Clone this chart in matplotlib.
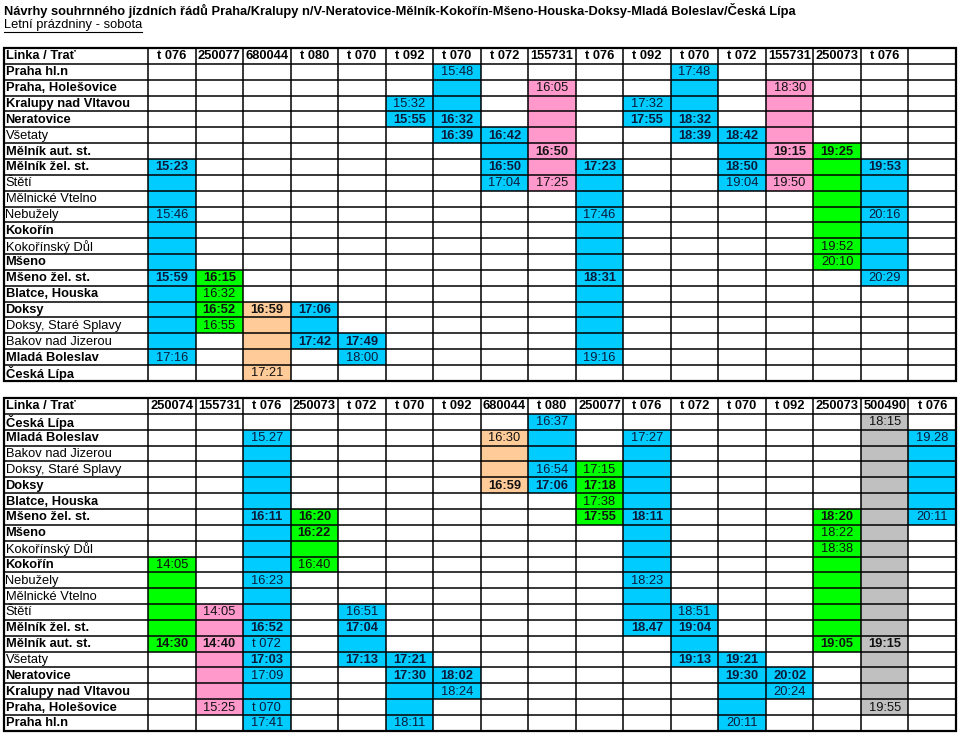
import matplotlib
matplotlib.use("Agg")
import matplotlib.pyplot as plt
from matplotlib.patches import Rectangle

plt.rcParams['font.family'] = ['Liberation Sans', 'DejaVu Sans']

title = "Návrhy souhrnného jízdních řádů Praha/Kralupy n/V-Neratovice-Mělník-Kokořín-Mšeno-Houska-Doksy-Mladá Boleslav/Česká Lípa"
subtitle = "Letní prázdniny - sobota"

# stanice psane tucne
bold_stations = {"Praha hl.n", "Praha, Holešovice", "Kralupy nad Vltavou", "Neratovice",
                 "Mělník aut. st.", "Mělník žel. st.", "Kokořín", "Mšeno", "Mšeno žel. st.",
                 "Blatce, Houska", "Doksy", "Mladá Boleslav", "Česká Lípa"}

# ---- horni tabulka (smer Praha -> Česká Lípa) ----
top_stations = ["Praha hl.n", "Praha, Holešovice", "Kralupy nad Vltavou", "Neratovice", "Všetaty",
                "Mělník aut. st.", "Mělník žel. st.", "Štětí", "Mělnické Vtelno", "Nebužely",
                "Kokořín", "Kokořínský Důl", "Mšeno", "Mšeno žel. st.", "Blatce, Houska", "Doksy",
                "Doksy, Staré Splavy", "Bakov nad Jizerou", "Mladá Boleslav", "Česká Lípa"]
top_lines = ["t 076", "250077", "680044", "t 080", "t 070", "t 092", "t 070", "t 072", "155731",
             "t 076", "t 092", "t 070", "t 072", "155731", "250073", "t 076", ""]
top_colors = ["b", "g", "o", "b", "b", "b", "b", "b", "p", "b", "b", "b", "b", "p", "g", "b", ""]
top_spans = [(6, 18), (13, 16), (15, 19), (15, 17), (17, 18), (2, 3), (0, 4), (4, 7), (1, 7),
             (6, 18), (2, 3), (0, 4), (4, 7), (1, 7), (5, 12), (6, 13), None]
# "*" = tucne
top_times = [
    {6: "*15:23", 9: "15:46", 13: "*15:59", 18: "17:16"},
    {13: "*16:15", 14: "16:32", 15: "*16:52", 16: "16:55"},
    {15: "*16:59", 19: "17:21"},
    {15: "*17:06", 17: "*17:42"},
    {17: "*17:49", 18: "18:00"},
    {2: "15:32", 3: "*15:55"},
    {0: "15:48", 3: "*16:32", 4: "*16:39"},
    {4: "*16:42", 6: "*16:50", 7: "17:04"},
    {1: "16:05", 5: "*16:50", 7: "17:25"},
    {6: "*17:23", 9: "17:46", 13: "*18:31", 18: "19:16"},
    {2: "17:32", 3: "*17:55"},
    {0: "17:48", 3: "*18:32", 4: "*18:39"},
    {4: "*18:42", 6: "*18:50", 7: "19:04"},
    {1: "18:30", 5: "*19:15", 7: "19:50"},
    {5: "*19:25", 11: "19:52", 12: "20:10"},
    {6: "*19:53", 9: "20:16", 13: "20:29"},
    {},
]

# ---- dolni tabulka (smer Česká Lípa -> Praha) ----
bottom_stations = top_stations[::-1]
bottom_lines = ["250074", "155731", "t 076", "250073", "t 072", "t 070", "t 092", "680044", "t 080",
                "250077", "t 076", "t 072", "t 070", "t 092", "250073", "500490", "t 076"]
bottom_colors = ["g", "p", "b", "g", "b", "b", "b", "o", "b", "g", "b", "b", "b", "b", "g", "s", "b"]
bottom_spans = [(9, 14), (12, 18), (1, 19), (6, 9), (12, 15), (15, 19), (16, 17), (1, 4), (0, 4),
                (3, 6), (1, 13), (12, 15), (15, 19), (16, 17), (6, 14), (0, 18), (1, 6)]
bottom_times = [
    {9: "14:05", 14: "*14:30"},
    {12: "14:05", 14: "*14:40", 18: "15:25"},
    {1: "15.27", 6: "*16:11", 10: "16:23", 13: "*16:52", 14: "t 072", 15: "*17:03", 16: "17:09",
     18: "t 070", 19: "17:41"},
    {6: "*16:20", 7: "*16:22", 9: "16:40"},
    {12: "16:51", 13: "*17:04", 15: "*17:13"},
    {15: "*17:21", 16: "*17:30", 19: "18:11"},
    {16: "*18:02", 17: "18:24"},
    {1: "16:30", 4: "*16:59"},
    {0: "16:37", 3: "16:54", 4: "*17:06"},
    {3: "17:15", 4: "*17:18", 5: "17:38", 6: "*17:55"},
    {1: "17:27", 6: "*18:11", 10: "18:23", 13: "*18.47"},
    {12: "18:51", 13: "*19:04", 15: "*19:13"},
    {15: "*19:21", 16: "*19:30", 19: "20:11"},
    {16: "*20:02", 17: "20:24"},
    {6: "*18:20", 7: "18:22", 8: "18:38", 14: "*19:05"},
    {0: "18:15", 14: "*19:15", 18: "19:55"},
    {1: "19.28", 6: "20:11"},
]

palette = {"b": "#00CCFF", "g": "#00FF00", "o": "#FFCC99", "p": "#FF99CC", "s": "#C0C0C0"}

X_LEFT = 3.5
X_NAME = 148
X_RIGHT = 956
ROW_H = 15.85
FS = 9.3


def draw_table(ax, y0, stations, lines, colors, spans, times):
    ncol = len(lines)
    col_w = (X_RIGHT - X_NAME) / ncol
    nrow = len(stations) + 1
    # barevne sloupce
    for j in range(ncol):
        if spans[j] is None or colors[j] == "":
            continue
        r0, r1 = spans[j]
        ax.add_patch(Rectangle((X_NAME + j * col_w, y0 + (r0 + 1) * ROW_H), col_w,
                               (r1 - r0 + 1) * ROW_H, facecolor=palette[colors[j]],
                               edgecolor="none", zorder=1))
    # mrizka
    for i in range(nrow + 1):
        ax.plot([X_LEFT, X_RIGHT], [y0 + i * ROW_H] * 2, color="black", lw=1.1, zorder=3,
                solid_capstyle="projecting")
    xs = [X_LEFT, X_NAME] + [X_NAME + (j + 1) * col_w for j in range(ncol)]
    for x in xs:
        ax.plot([x, x], [y0, y0 + nrow * ROW_H], color="black", lw=1.1, zorder=3,
                solid_capstyle="projecting")
    ax.add_patch(Rectangle((X_LEFT, y0), X_RIGHT - X_LEFT, nrow * ROW_H, facecolor="none",
                           edgecolor="black", lw=1.6, zorder=4))
    # hlavicka
    yc = y0 + ROW_H / 2 + 0.5
    ax.text(X_LEFT + 2, yc, "Linka / Trať", fontsize=FS, fontweight="bold", va="center",
            ha="left", zorder=5)
    for j, lab in enumerate(lines):
        ax.text(X_NAME + (j + 0.5) * col_w, yc, lab, fontsize=FS, fontweight="bold",
                va="center", ha="center", zorder=5)
    # stanice
    for i, st in enumerate(stations):
        yc = y0 + (i + 1.5) * ROW_H + 0.5
        ax.text(X_LEFT + 2, yc, st, fontsize=FS, va="center", ha="left", zorder=5,
                fontweight="bold" if st in bold_stations else "normal")
    # casy
    for j in range(ncol):
        for r, t in times[j].items():
            bold = t.startswith("*")
            txt = t.lstrip("*")
            tc = "#0c1a3a" if colors[j] == "b" else "#111111"
            ax.text(X_NAME + (j + 0.5) * col_w, y0 + (r + 1.5) * ROW_H + 0.5, txt,
                    fontsize=FS, fontweight="bold" if bold else "normal", color=tc,
                    va="center", ha="center", zorder=5)


fig = plt.figure(figsize=(9.6, 7.35), dpi=100)
ax = fig.add_axes([0, 0, 1, 1])
ax.set_xlim(0, 960)
ax.set_ylim(735, 0)
ax.axis("off")

ax.text(4, 10, title, fontsize=FS, fontweight="bold", va="center", ha="left")
sub = ax.text(4, 24.5, subtitle, fontsize=FS, va="center", ha="left")

draw_table(ax, 48, top_stations, top_lines, top_colors, top_spans, top_times)
draw_table(ax, 398, bottom_stations, bottom_lines, bottom_colors, bottom_spans, bottom_times)

# podtrzeni podnadpisu
fig.canvas.draw()
bb = sub.get_window_extent().transformed(ax.transData.inverted())
ax.plot([bb.x0, bb.x1], [31.5, 31.5], color="black", lw=0.8)

fig.savefig("out.png", dpi=100)
